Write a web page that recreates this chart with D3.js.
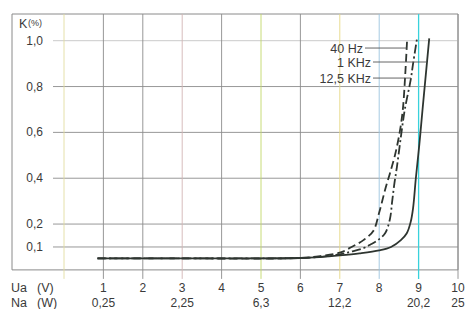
<!DOCTYPE html>
<html>
<head>
<meta charset="utf-8">
<script src="https://cdn.jsdelivr.net/npm/d3@7"></script>
<style>
  html, body { margin: 0; padding: 0; background: #fff; }
  svg text { font-family: "Liberation Sans", Arial, sans-serif; fill: #3a3a3a; }
</style>
</head>
<body>
<script>
const width = 466;
const height = 309;

// tick values / labels
const yTicks = [0.1, 0.2, 0.4, 0.6, 0.8, 1.0];
const uaTicks = [1, 2, 3, 4, 5, 6, 7, 8, 9, 10];
const naTicks = [1, 3, 5, 7, 9, 10];
const naLabels = ["0,25", "2,25", "6,3", "12,2", "20,2", "25"];

// distortion K (%) vs output voltage Ua (V)
const hz40 = [
  [0.85, 0.05], [3, 0.05], [6, 0.052], [6.5, 0.06], [7, 0.075], [7.3, 0.1],
  [7.6, 0.13], [7.85, 0.17], [8.0, 0.25], [8.15, 0.35], [8.27, 0.42],
  [8.4, 0.5], [8.52, 0.6], [8.6, 0.7], [8.66, 0.85], [8.71, 1.01]
];
const khz1 = [
  [0.85, 0.05], [3, 0.05], [6, 0.052], [6.5, 0.056], [7, 0.063], [7.5, 0.072],
  [8, 0.085], [8.3, 0.1], [8.55, 0.13], [8.7, 0.16], [8.8, 0.21],
  [8.86, 0.27], [8.93, 0.4], [9.02, 0.55], [9.1, 0.7], [9.27, 1.01]
];
const khz12 = [
  [0.85, 0.05], [3, 0.05], [6, 0.052], [6.5, 0.057], [7, 0.068], [7.3, 0.08],
  [7.6, 0.095], [7.77, 0.11], [7.97, 0.13], [8.15, 0.16], [8.27, 0.22],
  [8.33, 0.3], [8.38, 0.37], [8.45, 0.45], [8.55, 0.58], [8.65, 0.7],
  [8.8, 0.83], [8.86, 0.9], [8.96, 1.01]
];
const seriesNames = ["40 Hz", "1 KHz", "12,5 KHz"];

const svg = d3.select("body")
  .append("svg")
  .attr("width", width)
  .attr("height", height)
  .attr("viewBox", [0, 0, width, height]);

const xScale = d3.scaleLinear([0, 10], [64, 458]);
const yScale = d3.scaleLinear([0, 1], [269.9, 40.7]);
const fmt = d3.format(".1f");
const comma = v => fmt(v).replace(".", ",");

// tinted grid lines like the printed sheet
const tint = { 0: "#e2dca0", 3: "#d2b4b4", 5: "#c2d86a", 7: "#e6d884", 8: "#9cc4e0", 9: "#38d2dc" };

const frameLeft = 12, frameTop = 14;

// frame
svg.append("path")
  .attr("fill", "none")
  .attr("stroke", "#8a8a8a")
  .attr("stroke-width", 1)
  .attr("d", `M${frameLeft},${yScale(0)}V${frameTop}H${xScale(10)}V${yScale(0)}H${frameLeft}`);

// horizontal grid
svg.append("g")
  .selectAll("line")
  .data(yTicks)
  .join("line")
  .attr("x1", 53)
  .attr("x2", xScale(10))
  .attr("y1", d => yScale(d))
  .attr("y2", d => yScale(d))
  .attr("stroke", d => d === 1 ? "#c4c4c4" : "#8c8c8c")
  .attr("stroke-width", 0.9);

// vertical grid, extending below the frame as ticks
svg.append("g")
  .selectAll("line")
  .data([0].concat(uaTicks))
  .join("line")
  .attr("x1", d => xScale(d))
  .attr("x2", d => xScale(d))
  .attr("y1", frameTop)
  .attr("y2", yScale(0) + 9)
  .attr("stroke", d => tint[d] || "#8c8c8c")
  .attr("stroke-width", d => d === 9 ? 1.3 : 0.9);

// y tick labels
svg.append("g")
  .attr("font-size", 12)
  .attr("text-anchor", "end")
  .selectAll("text")
  .data(yTicks)
  .join("text")
  .attr("x", 43)
  .attr("y", d => yScale(d) + 4)
  .text(d => comma(d));

svg.append("text")
  .attr("x", 19)
  .attr("y", 28)
  .attr("font-size", 12.5)
  .text("K");
svg.append("text")
  .attr("x", 28)
  .attr("y", 26)
  .attr("font-size", 9)
  .text("(%)");

// x tick labels
svg.append("g")
  .attr("font-size", 12)
  .attr("text-anchor", "middle")
  .selectAll("text")
  .data(uaTicks)
  .join("text")
  .attr("x", d => xScale(d))
  .attr("y", 292)
  .text(d => d);

svg.append("g")
  .attr("font-size", 12)
  .attr("text-anchor", "middle")
  .selectAll("text")
  .data(naTicks)
  .join("text")
  .attr("x", d => xScale(d))
  .attr("y", 307)
  .text((d, i) => naLabels[i]);

svg.append("text").attr("x", 11).attr("y", 292).attr("font-size", 12.5).text("Ua");
svg.append("text").attr("x", 37).attr("y", 292).attr("font-size", 12.5).text("(V)");
svg.append("text").attr("x", 11).attr("y", 307).attr("font-size", 12.5).text("Na");
svg.append("text").attr("x", 37).attr("y", 307).attr("font-size", 12.5).text("(W)");

// curves
const line = d3.line()
  .curve(d3.curveCatmullRom.alpha(0.5))
  .x(d => xScale(d[0]))
  .y(d => yScale(d[1]));

const styles = [
  { data: hz40, dash: "8,4" },
  { data: khz1, dash: null },
  { data: khz12, dash: "9,3,2,3" }
];

styles.forEach(s => {
  svg.append("path")
    .attr("fill", "none")
    .attr("stroke", "#2e3530")
    .attr("stroke-width", 1.8)
    .attr("stroke-linejoin", "round")
    .attr("stroke-dasharray", s.dash)
    .attr("d", line(s.data));
});

// x of a series at a given K, linear between points of the upper part
function xAt(data, k) {
  for (let i = data.length - 1; i > 0; i--) {
    const [x0, y0] = data[i - 1];
    const [x1, y1] = data[i];
    if (k <= y1 && k >= y0) return x0 + (x1 - x0) * (k - y0) / (y1 - y0);
  }
  return data[data.length - 1][0];
}

// labels with leader lines
const labelK = [0.968, 0.907, 0.837];
const labelEnd = [363, 371, 371];
seriesNames.forEach((name, i) => {
  const k = labelK[i];
  const yy = yScale(k);
  svg.append("text")
    .attr("x", labelEnd[i])
    .attr("y", yy + 4.5)
    .attr("font-size", 12.5)
    .attr("text-anchor", "end")
    .text(name);
  svg.append("line")
    .attr("x1", labelEnd[i] + 2)
    .attr("x2", xScale(xAt(styles[i].data, k)))
    .attr("y1", yy)
    .attr("y2", yy)
    .attr("stroke", "#555")
    .attr("stroke-width", 0.9);
});
</script>
</body>
</html>
